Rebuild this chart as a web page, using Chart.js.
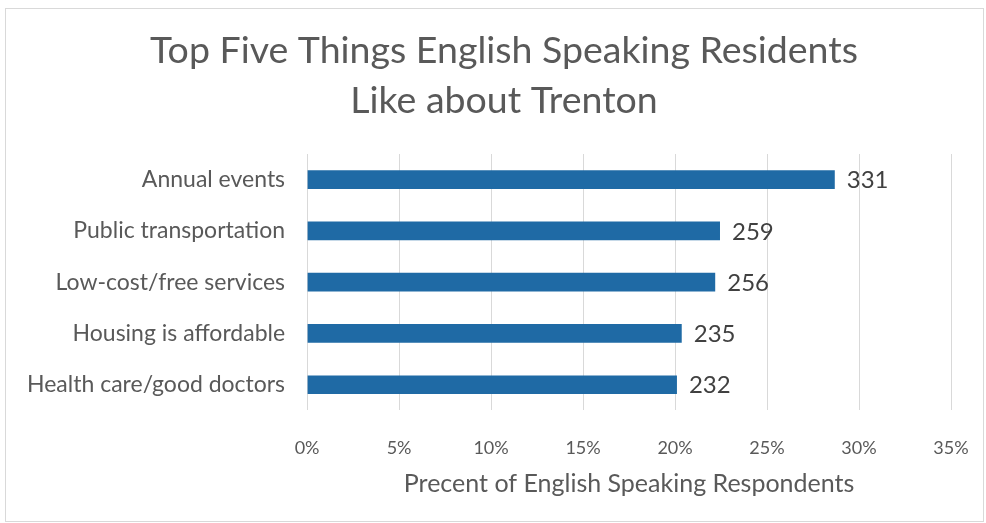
<!DOCTYPE html>
<html>
<head>
<meta charset="utf-8">
<script src="https://cdn.jsdelivr.net/npm/chart.js@4.4.1/dist/chart.umd.min.js"></script>
<style>
  html, body { margin: 0; padding: 0; background: #fff; }
  #wrap { width: 986px; height: 523px; position: relative; }
</style>
</head>
<body>
<div id="wrap"><canvas id="likesChart"></canvas></div>
<script>
// kategori dan jumlah responden
const categories = [
  "Annual events",
  "Public transportation",
  "Low-cost/free services",
  "Housing is affordable",
  "Health care/good doctors",
];
const counts = [331, 259, 256, 235, 232];
const totalRespondents = 1154; // jumlah responden berbahasa Inggris
const xTicks = [0, 5, 10, 15, 20, 25, 30, 35];
const titleLines = ["Top Five Things English Speaking Residents", "Like about Trenton"];

// persentase dihitung dari jumlah
const percents = counts.map((c) => (c / totalRespondents) * 100);

const FONT = "Lato, 'Open Sans', sans-serif";
const TEXT = "#595959";

// plugin untuk frame, judul dan label nilai di ujung bar
const frameAndLabels = {
  id: "frameAndLabels",
  beforeDraw(chart) {
    const ctx = chart.ctx;
    ctx.save();
    ctx.fillStyle = "#fff";
    ctx.fillRect(0, 0, chart.width, chart.height);
    ctx.strokeStyle = "#d9d9d9";
    ctx.lineWidth = 1;
    ctx.strokeRect(5.5, 8.5, chart.width - 8, chart.height - 10);
    ctx.restore();
  },
  afterDatasetsDraw(chart) {
    const ctx = chart.ctx;
    const meta = chart.getDatasetMeta(0);
    ctx.save();
    ctx.font = "24px " + FONT;
    ctx.fillStyle = "#404040";
    ctx.textAlign = "left";
    ctx.textBaseline = "middle";
    meta.data.forEach((bar, i) => {
      ctx.fillText(String(counts[i]), bar.x + 12, bar.y + 1);
    });
    ctx.restore();
  },
  afterDraw(chart) {
    // judul dua baris
    const ctx = chart.ctx;
    ctx.save();
    ctx.font = "37.5px " + FONT;
    ctx.fillStyle = TEXT;
    ctx.textAlign = "center";
    ctx.textBaseline = "alphabetic";
    titleLines.forEach((line, i) => {
      ctx.fillText(line, 504, 63 + i * 50);
    });
    ctx.restore();
  },
};

const ctx = document.getElementById("likesChart").getContext("2d");
const myChart = new Chart(ctx, {
  type: "bar",
  data: {
    labels: categories,
    datasets: [
      {
        label: "Percent",
        data: percents,
        backgroundColor: "#1f6aa5",
        borderWidth: 0,
        barPercentage: 0.365,
        categoryPercentage: 1,
      },
    ],
  },
  options: {
    indexAxis: "y",
    responsive: true,
    maintainAspectRatio: false,
    animation: false,
    layout: {
      padding: { left: 5, right: 35, top: 154, bottom: 24 },
    },
    scales: {
      x: {
        min: 0,
        max: 35,
        afterBuildTicks(axis) {
          axis.ticks = xTicks.map((v) => ({ value: v }));
        },
        afterFit(axis) {
          axis.paddingLeft = 0;
          axis.paddingRight = 0;
        },
        grid: { color: "#d9d9d9", lineWidth: 1, drawTicks: false },
        border: { display: false },
        ticks: {
          color: TEXT,
          font: { family: FONT, size: 18 },
          padding: 27,
          maxRotation: 0,
          callback: (v) => v + "%",
        },
        title: {
          display: true,
          text: "Precent of English Speaking Respondents",
          color: TEXT,
          font: { family: FONT, size: 25 },
          padding: { top: -17, bottom: 0 },
        },
      },
      y: {
        grid: { display: false, drawTicks: false },
        border: { display: false },
        ticks: {
          color: TEXT,
          font: { family: FONT, size: 23 },
          padding: 22,
        },
      },
    },
    plugins: {
      legend: { display: false },
      tooltip: { enabled: false },
      title: { display: false },
    },
  },
  plugins: [frameAndLabels],
});
</script>
</body>
</html>
